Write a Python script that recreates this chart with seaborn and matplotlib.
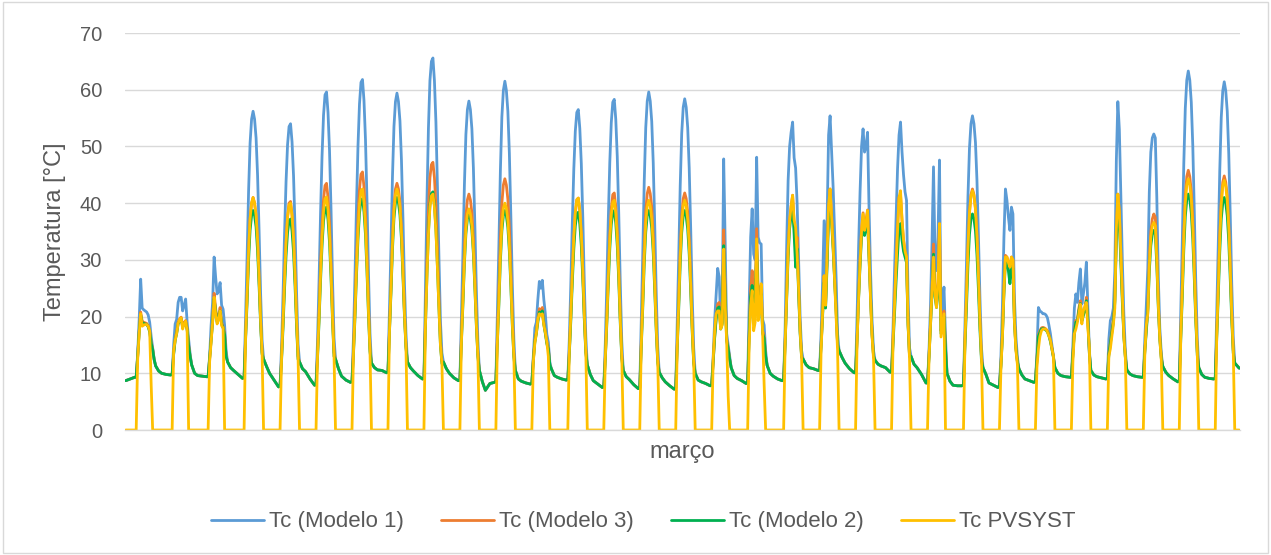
import matplotlib
matplotlib.use("Agg")
import matplotlib.pyplot as plt
from matplotlib.patches import Rectangle
from matplotlib.lines import Line2D
import pandas as pd
import seaborn as sns

# Hourly cell temperatures for March.
# Daytime model values are at hours 7..19, PVSYST at hours 8..19,
# night values (shared by the three models) at hours 0, 3, 6 and 20, 22.
model_day_hours = list(range(7, 20))
pv_day_hours = list(range(8, 20))
night_am_hours = [0, 3, 6]
night_pm_hours = [20, 22]

series_names = ["Tc (Modelo 1)", "Tc (Modelo 3)", "Tc (Modelo 2)", "Tc PVSYST"]
series_colors = ["#5B9BD5", "#ED7D31", "#00B050", "#FFC000"]

night_am = [
    [8.7, 9.0, 9.3], [10.0, 9.8, 9.7], [9.6, 9.5, 9.4], [10.5, 9.8, 9.1],
    [10.0, 8.8, 7.6], [10.3, 9.0, 7.9], [9.5, 8.8, 8.4], [10.6, 10.5, 10.1],
    [10.4, 9.6, 9.0], [10.0, 9.2, 8.7], [7.0, 8.2, 8.4], [8.6, 8.3, 8.1],
    [9.3, 9.0, 8.8], [8.7, 8.1, 7.5], [8.9, 8.0, 7.3], [8.5, 7.8, 7.2],
    [8.5, 8.2, 7.8], [9.1, 8.7, 8.2], [9.5, 9.0, 8.7], [11.0, 10.8, 10.5],
    [11.8, 10.8, 10.1], [11.3, 11.0, 10.2], [11.0, 9.8, 8.3], [7.9, 7.8, 7.8],
    [8.3, 7.9, 7.5], [9.0, 8.7, 8.4], [9.6, 9.4, 9.3], [9.4, 9.2, 9.0],
    [9.6, 9.4, 9.3], [9.6, 9.0, 8.5], [9.3, 9.1, 9.0],
]
night_pm = [
    [11.3, 10.4], [11.5, 10.0], [12.0, 11.0], [12.5, 11.2], [12.0, 10.8],
    [12.5, 10.8], [11.8, 11.0], [12.0, 11.0], [12.0, 10.8], [10.5, 8.5],
    [10.5, 9.0], [10.8, 9.6], [11.5, 9.8], [10.5, 9.4], [10.2, 9.2],
    [10.0, 8.8], [11.0, 9.6], [11.4, 10.0], [12.5, 11.5], [14.0, 12.8],
    [12.3, 11.6], [13.0, 11.6], [10.0, 8.6], [11.0, 9.8], [10.8, 9.7],
    [11.0, 10.0], [10.5, 9.7], [10.6, 9.9], [11.2, 10.2], [11.0, 9.8],
    [11.8, 11.2],
]
last_hour_temp = 10.9

modelo1 = [
    [9.3, 13.5, 19.5, 26.6, 21.5, 21.2, 21.0, 20.8, 20.3, 19.0, 16.5, 14.5, 12.5],
    [9.8, 15.0, 18.7, 19.5, 22.5, 23.4, 23.4, 21.0, 22.0, 23.1, 19.0, 16.0, 13.4],
    [9.4, 13.0, 18.5, 22.5, 30.5, 27.0, 24.0, 24.5, 26.0, 22.0, 21.3, 18.5, 14.0],
    [9.3, 19.6, 30.4, 42.1, 50.6, 54.8, 56.2, 54.8, 51.5, 44.9, 35.1, 24.3, 15.9],
    [7.8, 14.7, 24.0, 34.6, 43.8, 50.3, 53.5, 54.0, 50.8, 44.8, 35.5, 24.4, 15.2],
    [8.0, 15.7, 26.1, 37.9, 48.2, 55.5, 59.1, 59.6, 56.0, 49.3, 39.0, 26.6, 16.3],
    [8.6, 16.6, 27.2, 39.5, 50.1, 57.5, 61.3, 61.8, 58.1, 51.2, 40.5, 27.8, 17.1],
    [10.2, 21.0, 32.3, 44.6, 53.5, 57.9, 59.4, 57.9, 54.5, 47.6, 37.3, 25.9, 17.1],
    [9.1, 24.9, 40.2, 53.2, 61.6, 65.0, 65.6, 61.6, 54.3, 43.0, 30.6, 19.3, 13.6],
    [8.8, 19.6, 30.9, 43.2, 52.1, 56.5, 58.0, 56.5, 53.1, 46.2, 35.9, 24.5, 15.7],
    [8.6, 20.2, 32.4, 45.6, 55.2, 59.9, 61.5, 59.9, 56.2, 48.8, 37.7, 25.5, 16.0],
    [8.3, 13.0, 18.0, 19.0, 23.0, 26.2, 25.0, 26.4, 23.0, 20.5, 16.9, 15.5, 12.0],
    [8.9, 16.0, 25.6, 36.5, 46.0, 52.7, 56.0, 56.5, 53.2, 47.0, 37.5, 26.0, 16.5],
    [7.6, 15.2, 25.3, 37.0, 47.1, 54.2, 57.8, 58.3, 54.8, 48.2, 38.0, 25.9, 15.7],
    [7.4, 18.9, 30.9, 43.9, 53.3, 58.0, 59.6, 58.0, 54.4, 47.1, 36.1, 24.1, 14.7],
    [7.4, 18.6, 30.4, 43.1, 52.3, 56.9, 58.4, 56.9, 53.3, 46.2, 35.5, 23.7, 14.5],
    [8.0, 13.0, 19.5, 24.0, 28.5, 27.0, 19.3, 21.0, 47.8, 33.0, 17.0, 15.0, 13.0],
    [8.5, 22.0, 34.0, 39.0, 31.0, 30.0, 48.1, 34.0, 33.0, 32.8, 19.5, 18.5, 14.0],
    [8.9, 18.0, 32.0, 44.0, 50.0, 52.5, 54.3, 48.0, 46.2, 40.0, 30.0, 20.0, 14.0],
    [10.5, 17.0, 26.0, 36.9, 27.5, 37.0, 52.0, 55.4, 49.0, 43.0, 35.0, 27.0, 17.0],
    [10.1, 20.0, 32.0, 42.0, 50.0, 53.1, 49.0, 50.0, 52.5, 39.0, 28.0, 19.3, 14.0],
    [10.2, 18.0, 28.0, 37.0, 46.0, 52.0, 54.3, 49.0, 45.0, 42.0, 40.5, 24.0, 14.5],
    [8.3, 14.0, 22.0, 33.0, 46.4, 31.0, 28.1, 34.0, 47.6, 19.3, 22.0, 25.2, 16.4],
    [8.0, 18.4, 29.3, 41.2, 49.7, 54.0, 55.4, 54.0, 50.7, 44.0, 34.1, 23.2, 14.6],
    [7.8, 13.0, 22.0, 34.0, 42.5, 40.5, 37.5, 35.2, 39.3, 38.1, 23.4, 16.4, 12.8],
    [8.6, 13.5, 21.6, 21.0, 20.8, 20.5, 20.5, 20.3, 19.8, 18.5, 17.0, 15.0, 13.0],
    [9.3, 15.0, 21.5, 24.0, 22.5, 26.0, 28.4, 22.2, 24.0, 26.0, 29.6, 22.0, 14.0],
    [9.1, 16.0, 19.3, 20.0, 21.5, 28.0, 47.5, 57.9, 53.0, 41.6, 29.9, 20.5, 14.0],
    [9.3, 16.0, 22.0, 28.5, 42.0, 49.0, 51.5, 52.2, 51.5, 41.0, 27.0, 18.0, 13.5],
    [8.6, 20.6, 33.2, 46.9, 56.7, 61.7, 63.3, 61.7, 57.8, 50.2, 38.7, 26.1, 16.3],
    [9.1, 20.6, 32.6, 45.7, 55.1, 59.8, 61.4, 59.8, 56.2, 48.8, 37.9, 25.8, 16.4],
]

modelo3 = [
    [9.3, 13.0, 17.5, 20.8, 19.2, 19.0, 18.9, 18.8, 18.4, 17.5, 15.5, 14.3, 12.4],
    [9.8, 13.5, 16.0, 17.3, 19.0, 19.6, 19.9, 18.4, 18.9, 19.3, 18.0, 15.0, 13.0],
    [9.4, 12.5, 16.0, 19.5, 24.1, 21.5, 19.3, 20.0, 21.6, 19.0, 18.2, 17.0, 13.0],
    [9.3, 16.3, 23.6, 31.5, 37.2, 40.0, 41.0, 40.0, 37.8, 33.4, 26.7, 19.4, 13.7],
    [7.8, 12.7, 19.2, 26.7, 33.2, 37.7, 40.0, 40.3, 38.0, 33.8, 27.3, 19.5, 13.0],
    [8.0, 13.3, 20.4, 28.6, 35.7, 40.7, 43.1, 43.5, 41.0, 36.4, 29.3, 20.8, 13.7],
    [8.6, 14.1, 21.5, 30.0, 37.4, 42.5, 45.1, 45.5, 42.9, 38.1, 30.7, 21.9, 14.5],
    [10.2, 17.5, 25.2, 33.5, 39.5, 42.5, 43.5, 42.5, 40.2, 35.5, 28.5, 20.9, 14.9],
    [9.1, 19.8, 30.1, 38.8, 44.5, 46.8, 47.2, 44.5, 39.6, 32.0, 23.6, 16.0, 12.1],
    [8.8, 16.0, 23.6, 31.8, 37.7, 40.6, 41.6, 40.6, 38.3, 33.7, 26.8, 19.3, 13.4],
    [8.6, 16.5, 24.7, 33.6, 40.0, 43.2, 44.3, 43.2, 40.7, 35.7, 28.2, 20.0, 13.6],
    [8.3, 12.5, 15.8, 17.3, 19.5, 21.4, 21.0, 21.6, 19.0, 17.3, 15.5, 14.5, 11.5],
    [8.9, 13.7, 20.1, 27.5, 33.9, 38.3, 40.6, 40.9, 38.7, 34.5, 28.1, 20.4, 14.0],
    [7.6, 12.7, 19.6, 27.4, 34.3, 39.1, 41.5, 41.8, 39.4, 35.0, 28.1, 19.9, 13.1],
    [7.4, 15.2, 23.3, 32.2, 38.6, 41.7, 42.8, 41.7, 39.3, 34.3, 26.9, 18.7, 12.4],
    [7.4, 15.0, 22.9, 31.5, 37.7, 40.8, 41.8, 40.8, 38.4, 33.5, 26.3, 18.4, 12.2],
    [8.0, 12.0, 16.5, 20.0, 22.2, 22.5, 18.0, 19.0, 35.3, 25.0, 16.0, 14.5, 12.5],
    [8.5, 17.0, 25.0, 28.1, 24.0, 23.5, 35.5, 24.5, 24.0, 25.5, 17.5, 16.5, 13.0],
    [8.9, 15.5, 24.0, 32.0, 37.0, 39.5, 41.4, 36.5, 31.5, 34.0, 25.0, 17.5, 13.0],
    [10.5, 15.0, 20.5, 27.2, 22.0, 30.0, 39.0, 42.5, 38.0, 33.0, 27.0, 21.5, 15.0],
    [10.1, 16.0, 23.5, 30.0, 35.5, 38.3, 35.5, 37.0, 38.8, 31.0, 23.5, 17.0, 13.0],
    [10.2, 16.0, 22.5, 29.0, 35.5, 41.0, 41.5, 37.0, 33.5, 31.5, 30.5, 19.0, 13.0],
    [8.3, 13.0, 19.0, 25.0, 32.8, 24.5, 22.2, 26.0, 36.4, 17.5, 19.0, 21.0, 14.5],
    [8.0, 15.6, 23.5, 32.2, 38.4, 41.5, 42.5, 41.5, 39.1, 34.2, 27.0, 19.0, 12.8],
    [7.8, 11.5, 17.0, 25.0, 30.8, 30.5, 29.5, 28.7, 30.5, 30.0, 19.5, 14.5, 12.0],
    [8.6, 12.5, 16.8, 17.5, 18.0, 18.1, 18.0, 17.8, 17.5, 16.8, 15.8, 14.5, 13.0],
    [9.3, 13.5, 17.5, 19.3, 19.5, 21.5, 22.8, 19.5, 20.5, 21.5, 23.4, 19.5, 13.5],
    [9.1, 13.5, 15.5, 17.5, 19.5, 23.0, 35.0, 41.6, 38.5, 31.0, 23.5, 17.0, 13.0],
    [9.3, 14.0, 18.0, 21.5, 30.0, 35.0, 37.2, 38.1, 37.5, 31.0, 22.5, 16.5, 12.8],
    [8.6, 16.8, 25.3, 34.6, 41.3, 44.7, 45.8, 44.7, 42.1, 36.9, 29.1, 20.5, 13.8],
    [9.1, 17.0, 25.2, 34.1, 40.5, 43.7, 44.8, 43.7, 41.2, 36.2, 28.7, 20.5, 14.1],
]

modelo2 = [
    [9.3, 13.0, 17.3, 20.3, 18.9, 18.8, 18.7, 18.6, 18.2, 17.3, 15.3, 14.2, 12.4],
    [9.8, 13.3, 15.8, 17.0, 18.7, 19.3, 19.6, 18.2, 18.6, 19.0, 17.7, 14.8, 13.0],
    [9.4, 12.5, 15.8, 19.0, 23.2, 21.0, 19.0, 19.6, 21.0, 18.7, 18.0, 16.8, 13.0],
    [9.3, 15.8, 22.5, 29.9, 35.2, 37.8, 38.7, 37.8, 35.8, 31.6, 25.5, 18.7, 13.4],
    [7.8, 12.2, 18.1, 24.9, 30.7, 34.8, 36.9, 37.2, 35.1, 31.3, 25.4, 18.4, 12.5],
    [8.0, 12.7, 19.0, 26.2, 32.4, 36.8, 39.0, 39.3, 37.1, 33.0, 26.8, 19.3, 13.0],
    [8.6, 13.4, 19.9, 27.3, 33.7, 38.2, 40.5, 40.8, 38.5, 34.4, 27.9, 20.2, 13.8],
    [10.2, 17.0, 24.1, 31.8, 37.3, 40.1, 41.0, 40.1, 37.9, 33.6, 27.1, 20.1, 14.5],
    [9.1, 18.3, 27.2, 34.8, 39.7, 41.7, 42.0, 39.7, 35.4, 28.8, 21.6, 15.0, 11.7],
    [8.8, 15.2, 22.0, 29.3, 34.6, 37.2, 38.1, 37.2, 35.2, 31.1, 24.9, 18.2, 12.9],
    [8.6, 15.2, 22.1, 29.7, 35.1, 37.8, 38.7, 37.8, 35.7, 31.5, 25.2, 18.2, 12.8],
    [8.3, 12.3, 15.5, 17.0, 19.0, 20.8, 20.5, 21.0, 18.6, 17.0, 15.2, 14.3, 11.5],
    [8.9, 13.3, 19.2, 26.0, 31.9, 36.0, 38.1, 38.4, 36.3, 32.5, 26.6, 19.5, 13.6],
    [7.6, 12.3, 18.5, 25.6, 31.9, 36.2, 38.4, 38.7, 36.5, 32.5, 26.3, 18.8, 12.6],
    [7.4, 14.3, 21.5, 29.3, 34.9, 37.8, 38.7, 37.8, 35.6, 31.2, 24.6, 17.4, 11.8],
    [7.4, 14.2, 21.4, 29.2, 34.8, 37.7, 38.7, 37.7, 35.4, 31.0, 24.4, 17.3, 11.7],
    [8.0, 12.0, 16.3, 19.6, 21.5, 21.7, 17.8, 18.7, 32.5, 23.5, 15.7, 14.3, 12.5],
    [8.5, 16.5, 23.5, 25.5, 23.0, 22.5, 31.9, 23.5, 23.0, 24.0, 17.0, 16.2, 13.0],
    [8.9, 15.0, 23.0, 30.5, 35.5, 37.8, 39.3, 34.5, 28.7, 32.0, 24.0, 17.0, 12.8],
    [10.5, 14.8, 20.0, 26.0, 21.5, 29.0, 37.5, 40.5, 36.5, 32.0, 26.5, 21.0, 15.0],
    [10.1, 15.8, 23.0, 29.0, 34.0, 36.5, 34.3, 35.5, 36.8, 30.0, 23.0, 16.8, 13.0],
    [10.2, 15.0, 20.5, 26.0, 31.0, 35.5, 36.4, 33.5, 31.5, 30.5, 29.5, 18.5, 13.0],
    [8.3, 12.8, 18.5, 24.0, 31.0, 23.5, 21.6, 24.5, 30.0, 17.0, 18.5, 20.0, 14.3],
    [8.0, 14.6, 21.5, 29.1, 34.5, 37.2, 38.1, 37.2, 35.1, 30.9, 24.6, 17.6, 12.2],
    [7.8, 11.3, 16.5, 24.0, 29.9, 29.5, 28.0, 25.8, 29.0, 28.5, 19.0, 14.3, 12.0],
    [8.6, 12.3, 16.5, 17.2, 17.8, 17.9, 17.8, 17.6, 17.3, 16.6, 15.6, 14.3, 12.8],
    [9.3, 13.3, 17.2, 19.0, 19.2, 21.0, 22.3, 19.2, 20.2, 21.0, 22.8, 19.2, 13.5],
    [9.1, 13.3, 15.3, 17.2, 19.0, 22.5, 33.5, 39.3, 36.5, 29.5, 22.5, 16.5, 12.8],
    [9.3, 13.8, 17.5, 21.0, 28.0, 32.5, 34.5, 35.2, 34.5, 29.0, 21.5, 16.0, 12.6],
    [8.6, 15.9, 23.5, 31.7, 37.6, 40.6, 41.6, 40.6, 38.3, 33.7, 26.8, 19.2, 13.2],
    [9.1, 16.1, 23.5, 31.4, 37.2, 40.0, 41.0, 40.0, 37.8, 33.3, 26.6, 19.3, 13.6],
]

pvsyst = [
    [12.5, 17.0, 20.5, 18.3, 18.5, 18.6, 18.6, 18.3, 17.5, 8.0, 0.0, 0.0],
    [14.0, 15.8, 17.0, 18.8, 19.5, 19.8, 17.8, 18.7, 19.2, 17.5, 0.0, 0.0],
    [12.0, 15.5, 19.0, 23.4, 20.5, 18.7, 19.5, 21.0, 18.4, 18.0, 0.0, 0.0],
    [16.3, 23.6, 31.5, 37.2, 40.0, 41.0, 40.0, 37.8, 33.4, 26.7, 19.4, 13.7],
    [12.6, 19.1, 26.5, 32.9, 37.4, 39.7, 40.0, 37.7, 33.6, 27.1, 19.4, 13.0],
    [13.0, 19.6, 27.2, 33.8, 38.5, 40.8, 41.1, 38.8, 34.5, 27.9, 19.9, 13.3],
    [13.7, 20.5, 28.3, 35.0, 39.8, 42.2, 42.5, 40.1, 35.7, 28.9, 20.8, 14.0],
    [17.3, 24.7, 32.8, 38.6, 41.5, 42.5, 41.5, 39.3, 34.7, 28.0, 20.5, 14.7],
    [18.2, 27.0, 34.5, 39.3, 41.3, 41.6, 39.3, 35.1, 28.6, 21.5, 15.0, 11.7],
    [15.4, 22.4, 29.9, 35.4, 38.1, 39.0, 38.1, 36.0, 31.8, 25.4, 18.5, 13.0],
    [15.5, 22.7, 30.6, 36.2, 39.1, 40.0, 39.1, 36.9, 32.5, 25.9, 18.6, 13.0],
    [12.0, 15.3, 17.0, 19.5, 20.5, 20.2, 20.5, 18.5, 17.2, 15.5, 13.0, 0.0],
    [13.7, 20.1, 27.5, 33.9, 38.3, 40.6, 40.9, 38.7, 34.5, 28.1, 20.4, 14.0],
    [12.5, 19.1, 26.7, 33.3, 37.9, 40.2, 40.5, 38.2, 33.9, 27.3, 19.4, 12.9],
    [14.7, 22.3, 30.6, 36.5, 39.5, 40.5, 39.5, 37.2, 32.6, 25.6, 18.0, 12.0],
    [14.6, 22.2, 30.5, 36.4, 39.5, 40.5, 39.5, 37.1, 32.5, 25.5, 17.9, 11.9],
    [12.5, 17.5, 20.5, 21.0, 21.0, 17.8, 18.5, 31.9, 22.0, 15.5, 6.0, 0.0],
    [15.0, 22.0, 24.6, 17.5, 19.0, 33.7, 19.3, 21.0, 25.8, 16.9, 8.0, 0.0],
    [15.0, 23.5, 31.5, 36.8, 39.5, 41.4, 37.0, 35.8, 31.0, 25.0, 17.5, 12.5],
    [14.0, 20.5, 27.2, 22.0, 30.5, 39.5, 42.5, 37.5, 32.5, 26.5, 20.0, 14.0],
    [15.5, 23.0, 29.5, 35.0, 38.1, 35.2, 36.5, 38.7, 30.5, 23.0, 16.5, 12.5],
    [15.5, 22.0, 28.5, 35.0, 41.0, 42.2, 37.0, 33.5, 31.5, 30.5, 19.0, 12.5],
    [12.5, 18.5, 24.5, 30.5, 24.0, 21.6, 26.0, 36.4, 16.4, 18.5, 20.5, 0.0],
    [15.5, 23.4, 32.0, 38.2, 41.2, 42.2, 41.3, 38.9, 34.0, 26.8, 18.9, 12.7],
    [11.0, 16.5, 24.5, 30.5, 30.5, 29.5, 28.7, 30.5, 30.0, 19.0, 14.0, 11.5],
    [11.0, 14.3, 16.5, 17.5, 17.8, 17.8, 17.8, 17.3, 16.6, 15.8, 14.3, 13.0],
    [12.0, 17.0, 17.8, 19.0, 20.5, 22.2, 18.7, 21.0, 21.8, 22.5, 18.0, 14.5],
    [13.0, 14.3, 16.5, 18.5, 21.5, 35.5, 41.6, 38.5, 31.0, 23.5, 16.5, 12.8],
    [13.5, 18.5, 20.5, 29.0, 34.0, 36.0, 36.6, 36.0, 30.0, 22.0, 16.0, 12.3],
    [16.5, 24.7, 33.6, 40.0, 43.2, 44.3, 43.2, 40.7, 35.7, 28.2, 20.0, 13.6],
    [16.8, 24.8, 33.5, 39.8, 43.0, 44.0, 43.0, 40.5, 35.6, 28.3, 20.3, 14.0],
]


def build_frame():
    """Turn the per-day readings into one long table (hour of month, temp, series)."""
    rows = []
    model_hours = night_am_hours + model_day_hours + night_pm_hours
    pv_hours = [0, 7] + pv_day_hours + [20, 23]
    for d in range(len(modelo1)):
        offset = 24 * d
        for name, values in zip(series_names[:3], (modelo1, modelo3, modelo2)):
            temps = night_am[d] + values[d] + night_pm[d]
            for h, t in zip(model_hours, temps):
                rows.append({"hora": offset + h, "temp": t, "serie": name})
        pv_temps = [0.0, 0.0] + pvsyst[d] + [0.0, 0.0]
        for h, t in zip(pv_hours, pv_temps):
            rows.append({"hora": offset + h, "temp": t, "serie": series_names[3]})
    for name in series_names[:3]:
        rows.append({"hora": 24 * len(modelo1) - 1, "temp": last_hour_temp, "serie": name})
    return pd.DataFrame(rows)


df = build_frame()

sns.set_style("white")
plt.rcParams["font.family"] = ["Liberation Sans", "DejaVu Sans"]
text_color = "#595959"
grid_color = "#d9d9d9"

fig = plt.figure(figsize=(12.71, 5.55), dpi=100)
ax = fig.add_axes([0.0983, 0.2252, 0.8773, 0.7153])

sns.lineplot(
    data=df, x="hora", y="temp", hue="serie",
    hue_order=series_names, palette=series_colors,
    estimator=None, errorbar=None, linewidth=2.0, legend=False, ax=ax,
)

ax.set_xlim(-0.5, 24 * len(modelo1) - 0.5)
ax.set_ylim(0, 70)
ax.set_yticks(range(0, 71, 10))
ax.set_xticks([])
ax.yaxis.grid(True, color=grid_color, linewidth=1.0)
ax.set_axisbelow(True)
for side in ["left", "right", "top"]:
    ax.spines[side].set_visible(False)
ax.spines["bottom"].set_color(grid_color)
ax.spines["bottom"].set_linewidth(1.0)
ax.tick_params(axis="y", length=0, pad=16.5, labelsize=14.5, labelcolor=text_color)

ax.set_ylabel("Temperatura [°C]", fontsize=17, color=text_color)
ax.yaxis.label.set_verticalalignment("center")
ax.yaxis.set_label_coords(-0.0628, 0.5)
ax.set_xlabel("março", fontsize=17, color=text_color)
ax.xaxis.label.set_verticalalignment("center")
ax.xaxis.set_label_coords(0.5, -0.0554)

handles = [Line2D([], [], color=c, linewidth=2.0) for c in series_colors]
fig.legend(
    handles, series_names, loc="center", bbox_to_anchor=(0.506, 0.0595),
    ncol=4, frameon=False, fontsize=16, labelcolor=text_color,
    handlelength=2.4, handletextpad=0.23, columnspacing=1.65,
)

fig.patches.append(Rectangle((0.002, 0.003), 0.996, 0.994, transform=fig.transFigure,
                             fill=False, edgecolor=grid_color, linewidth=1.0))

fig.savefig("out.png", dpi=100)
